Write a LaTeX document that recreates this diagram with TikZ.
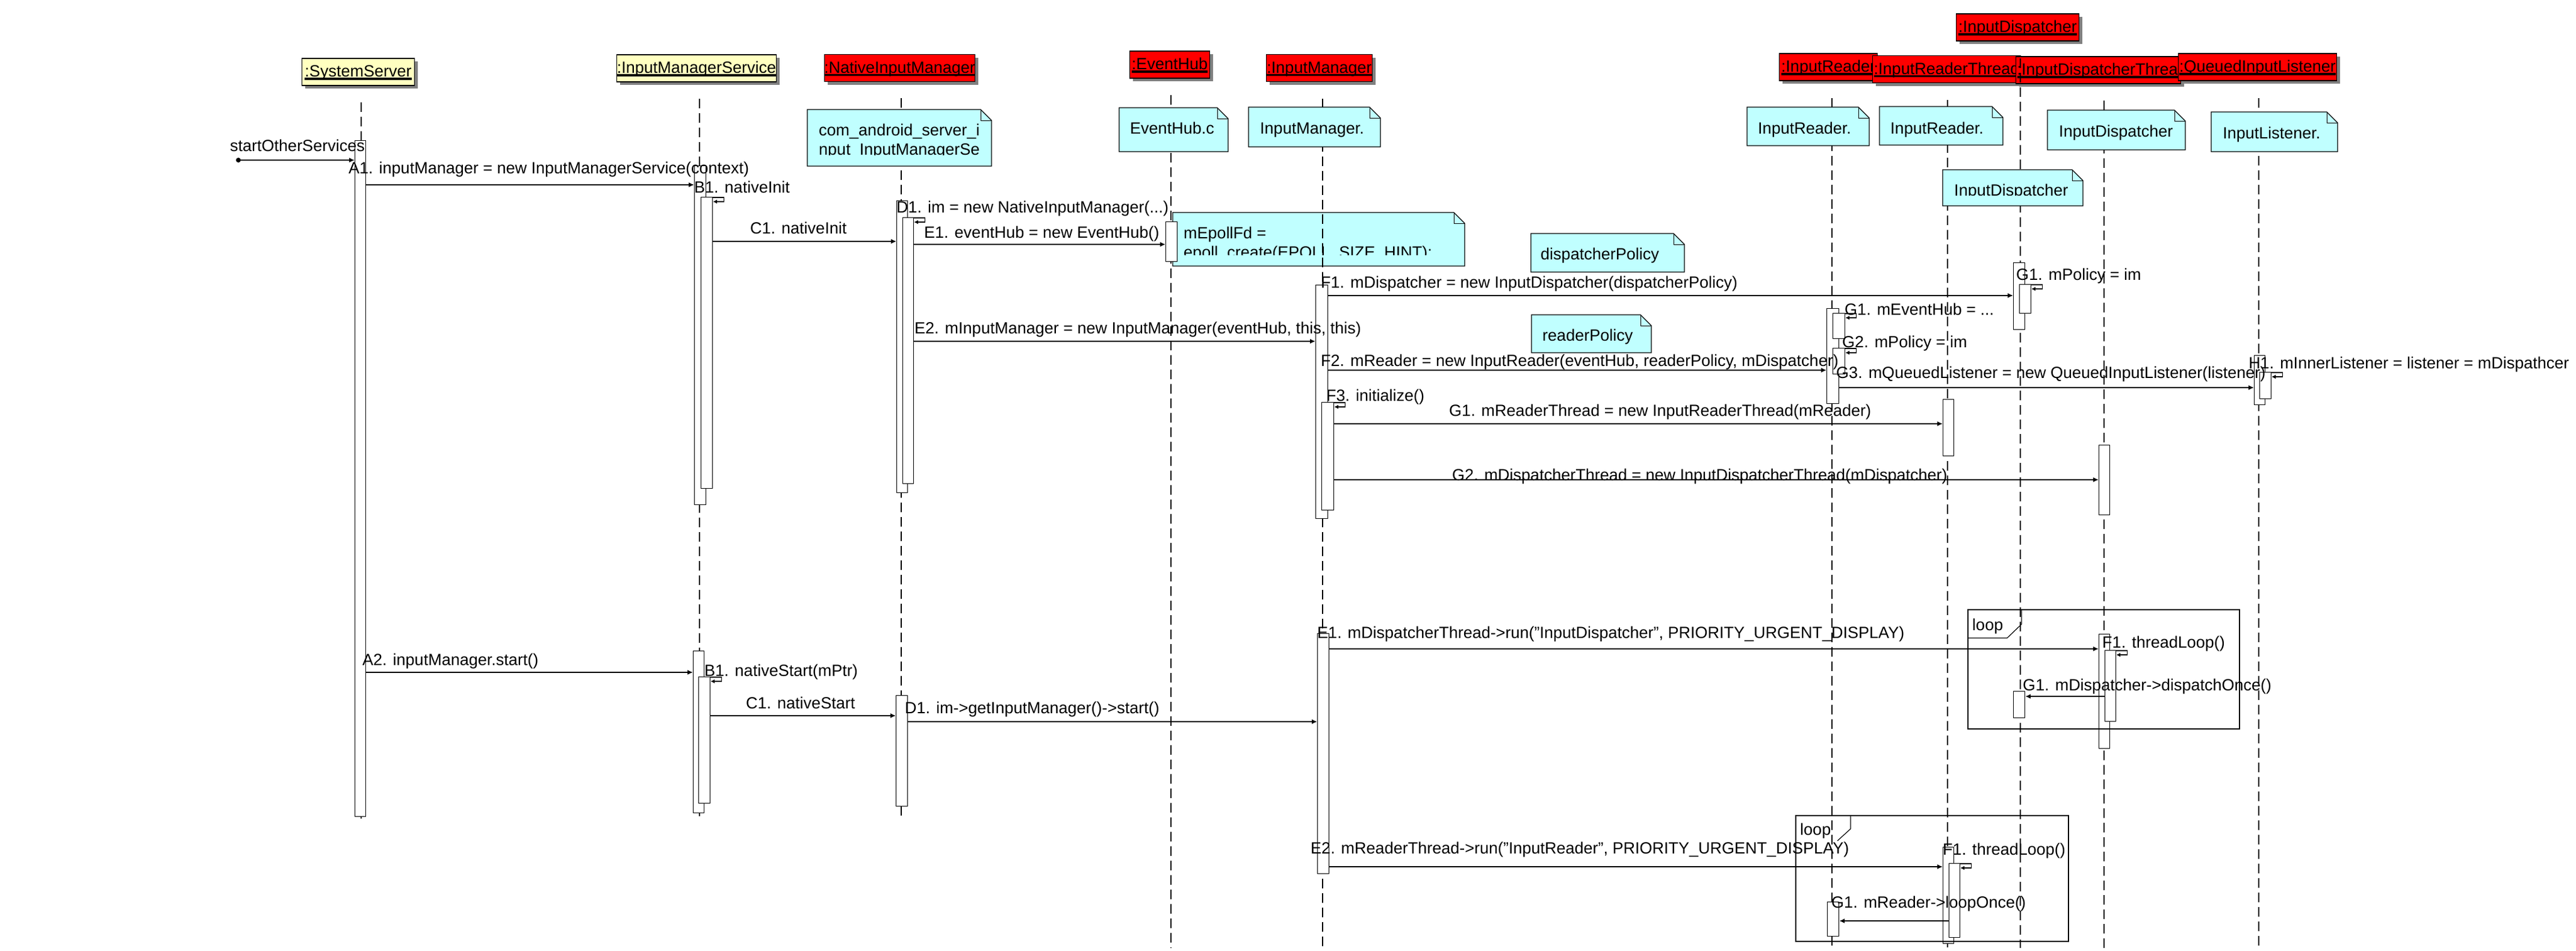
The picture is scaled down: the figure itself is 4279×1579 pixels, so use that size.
\documentclass[tikz,border=0pt]{standalone}
\usepackage{fontspec}
\setmainfont{Liberation Sans}
\usetikzlibrary{arrows.meta,shadows}
\definecolor{hdryellow}{HTML}{FFFFC0}
\definecolor{hdrred}{HTML}{FF0000}
\definecolor{notecyan}{HTML}{C0FFFF}
\definecolor{shgray}{HTML}{808080}
\newcommand\hdrul[1]{\setbox0=\hbox{#1}\rlap{\rule[-5pt]{\wd0}{3.5pt}}\box0}
\newcommand\hdrtext[3]{\makebox[#1pt][#2]{\hdrul{#3}}}
\newcommand\notebox[4]{%
  \filldraw[fill=notecyan, line width=1.2pt] (#1,#2) -- ({#3-18},#2) -- (#3,{#2+18}) -- (#3,#4) -- (#1,#4) -- cycle;
  \draw[line width=1pt] ({#3-18},#2) -- ({#3-18},{#2+18}) -- (#3,{#2+18});}
\newcommand\actbar[5]{\node[actb, minimum width={#3-#2}, minimum height={#5-#4}] (#1) at (#2,#4) {};}
\tikzset{
  every node/.style={font=\fontsize{27}{32}\selectfont, inner sep=0pt},
  hdr/.style={draw, line width=1.2pt, inner xsep=2pt, inner ysep=0pt, minimum height=45pt,
    text height=21pt, text depth=5pt,
    drop shadow={shadow xshift=5pt, shadow yshift=-5pt, opacity=1, fill=shgray}},
  life/.style={line width=1.2pt, dash pattern=on 16pt off 8pt},
  actb/.style={draw, fill=white, line width=1.2pt, anchor=north west, inner sep=0pt},
  msg/.style={line width=1.5pt, -{Latex[length=9pt,width=8pt]}},
  hook/.style={line width=1.2pt, -{Latex[length=7pt,width=7pt]}},
  lbl/.style={anchor=base west},
  frame/.style={line width=1.2pt}
}
\begin{document}
\begin{tikzpicture}[x=1pt,y=-1pt]
\useasboundingbox (0,0) rectangle (4279,1579);

% ---------- headers ----------
\node[hdr, fill=hdryellow] (ss) at (595,119.5) {\hdrtext{183}{c}{:SystemServer}};
\node[hdr, fill=hdryellow] (ims) at (1157,113.5) {\hdrtext{261}{c}{:InputManagerService}};
\node[hdr, fill=hdrred] (nim) at (1494.5,113) {\hdrtext{246}{c}{:NativeInputManager}};
\node[hdr, fill=hdrred] (eh) at (1943,107.5) {\hdrtext{129}{c}{:EventHub}};
\node[hdr, fill=hdrred] (im) at (2191.5,113) {\hdrtext{172}{c}{:InputManager}};
\node[hdr, fill=hdrred] (ir) at (3037,111.5) {\hdrtext{159}{c}{:InputReader}};
\node[hdr, fill=hdrred] (irt) at (3233.5,115) {\hdrtext{242}{c}{:InputReaderThread}};
\node[hdr, fill=hdrred] (idt) at (3485.5,116.5) {\hdrtext{270}{l}{:InputDispatcherThread}};
\node[hdr, fill=hdrred] (qil) at (3750,111.5) {\hdrtext{259}{c}{:QueuedInputListener}};
\node[hdr, fill=hdrred] (id) at (3351.5,45.5) {\hdrtext{200}{c}{:InputDispatcher}};

% ---------- note under the InputManager lifeline ----------
\notebox{1948}{353}{2433}{442}
\begin{scope}
  \clip (1948,353) rectangle (2433,423);
  \node[lbl] (nEpoll1) at (1966,396) {mEpollFd =};
  \node[lbl] (nEpoll2) at (1966,428) {epoll\_create(EPOLL\_SIZE\_HINT);};
\end{scope}

% ---------- lifelines ----------
\draw[life] (600,170) -- (600,1360);
\draw[life] (1162,164) -- (1162,1360);
\draw[life] (1497,163) -- (1497,1360);
\draw[life] (1945,158) -- (1945,1575);
\draw[life] (2197,164) -- (2197,1575);
\draw[life] (3043,163) -- (3043,1575);
\draw[life] (3235,166) -- (3235,1575);
\draw[life] (3356,97) -- (3356,1575);
\draw[life] (3495,167) -- (3495,1575);
\draw[life] (3752,163) -- (3752,1575);

% ---------- notes ----------
\notebox{1341}{182}{1647}{276}
\begin{scope}
  \clip (1341,182) rectangle (1647,257);
  \node[lbl] (nCom1) at (1360,225) {com\_android\_server\_i};
  \node[lbl] (nCom2) at (1360,257) {nput\_InputManagerSe};
\end{scope}
\notebox{1859}{179}{2040}{252}
\node[lbl] (nEH) at (1877,222) {EventHub.c};
\notebox{2074}{178}{2293}{244}
\node[lbl] (nIM) at (2093,222) {InputManager.};
\notebox{2902}{178}{3105}{242}
\node[lbl] (nIR1) at (2920,222) {InputReader.};
\notebox{3122}{177}{3327}{241}
\node[lbl] (nIR2) at (3140,222) {InputReader.};
\notebox{3401}{183}{3630}{249}
\node[lbl] (nID1) at (3420,227) {InputDispatcher};
\notebox{3673}{186}{3883}{252}
\node[lbl] (nIL) at (3692,230) {InputListener.};
\notebox{3227}{282}{3460}{342}
\begin{scope}
  \clip (3227,282) rectangle (3460,324);
  \node[lbl] (nID2) at (3246,325) {InputDispatcher};
\end{scope}
\notebox{2543}{388}{2798}{452}
\node[lbl] (nDP) at (2559,431) {dispatcherPolicy};
\notebox{2544}{523}{2743}{586}
\node[lbl] (nRP) at (2562,566) {readerPolicy};

% ---------- activation bars ----------
\actbar{ssA}{589}{607}{233}{1356}
\actbar{imsA}{1153}{1172}{275}{838}
\actbar{imsB}{1164}{1183}{327}{811}
\actbar{nimA}{1489}{1507}{333}{818}
\actbar{nimB}{1499}{1517}{361}{803}
\actbar{ehA}{1936}{1955}{368}{434}
\actbar{imA}{2185}{2205}{473}{861}
\actbar{imB}{2195}{2215}{668}{847}
\actbar{idA}{3344}{3363}{436}{547}
\actbar{idB}{3354}{3373}{472}{520}
\actbar{irA}{3034}{3054}{512}{670}
\actbar{irB}{3044}{3064}{520}{562}
\actbar{irC}{3044}{3064}{578}{621}
\actbar{qilA}{3744}{3762}{590}{672}
\actbar{qilB}{3753}{3772}{618}{662}
\actbar{irtA}{3227}{3245}{663}{757}
\actbar{idtA}{3486}{3504}{739}{855}
\actbar{imsC}{1151}{1169}{1081}{1350}
\actbar{imsD}{1160}{1179}{1124}{1334}
\actbar{nimC}{1488}{1507}{1155}{1339}
\actbar{imC}{2188}{2207}{1052}{1451}
\actbar{idtB}{3486}{3504}{1053}{1243}
\actbar{idtC}{3496}{3514}{1080}{1198}
\actbar{idC}{3344}{3363}{1148}{1192}
\actbar{irtB}{3227}{3245}{1407}{1567}
\actbar{irtC}{3237}{3255}{1434}{1557}
\actbar{irD}{3035}{3054}{1498}{1555}

% ---------- loop frames ----------
\draw[frame] (3269,1013) rectangle (3720,1211);
\draw[frame] (3269,1060) -- (3334,1060) -- (3358,1037) -- (3358,1013);
\node[lbl] (loopA) at (3276,1047) {loop};
\draw[frame] (2983,1355) rectangle (3436,1564);
\draw[frame] (3074,1355) -- (3074,1377) -- (3052,1397);
\node[lbl] (loopB) at (2990,1387) {loop};

% ---------- messages ----------
\node[circle, fill=black, minimum size=8pt] (fdot) at (396,266) {};
\draw[msg] (fdot.center) -- (ssA.west |- fdot.center);
\draw[msg] (ssA.east |- 0,307) -- (imsA.west |- 0,307);
\draw[hook] ([yshift=-1pt]imsB.north east) -- ++(18,0) -- ++(0,7) -- ++(-18,0);
\draw[msg] (imsB.east |- 0,401) -- (nimA.west |- 0,401);
\draw[hook] ([yshift=-1pt]nimB.north east) -- ++(18,0) -- ++(0,7) -- ++(-18,0);
\draw[msg] (nimB.east |- 0,406) -- (ehA.west |- 0,406);
\draw[msg] (nimB.east |- 0,567) -- (imA.west |- 0,567);
\draw[msg] (imA.east |- 0,491) -- (idA.west |- 0,491);
\draw[hook] ([yshift=-1pt]idB.north east) -- ++(18,0) -- ++(0,7) -- ++(-18,0);
\draw[msg] (imA.east |- 0,615) -- (irA.west |- 0,615);
\draw[hook] ([yshift=-1pt]irB.north east) -- ++(18,0) -- ++(0,7) -- ++(-18,0);
\draw[hook] ([yshift=-1pt]irC.north east) -- ++(18,0) -- ++(0,7) -- ++(-18,0);
\draw[msg] (irA.east |- 0,644) -- (qilA.west |- 0,644);
\draw[hook] ([yshift=-1pt]qilB.north east) -- ++(18,0) -- ++(0,7) -- ++(-18,0);
\draw[hook] ([yshift=-1pt]imB.north east) -- ++(18,0) -- ++(0,7) -- ++(-18,0);
\draw[msg] (imB.east |- 0,704) -- (irtA.west |- 0,704);
\draw[msg] (imB.east |- 0,797) -- (idtA.west |- 0,797);
\draw[msg] (ssA.east |- 0,1117) -- (imsC.west |- 0,1117);
\draw[hook] ([yshift=-1pt]imsD.north east) -- ++(18,0) -- ++(0,7) -- ++(-18,0);
\draw[msg] (imsD.east |- 0,1189) -- (nimC.west |- 0,1189);
\draw[msg] (nimC.east |- 0,1199) -- (imC.west |- 0,1199);
\draw[msg] (imC.east |- 0,1078) -- (idtB.west |- 0,1078);
\draw[hook] ([yshift=-1pt]idtC.north east) -- ++(18,0) -- ++(0,7) -- ++(-18,0);
\draw[msg] (idtC.west |- 0,1157) -- (idC.east |- 0,1157);
\draw[msg] (imC.east |- 0,1440) -- (irtB.west |- 0,1440);
\draw[hook] ([yshift=-1pt]irtC.north east) -- ++(18,0) -- ++(0,7) -- ++(-18,0);
\draw[msg] (irtC.west |- 0,1530) -- (irD.east |- 0,1530);

% ---------- message labels ----------
\node[lbl] (lFound) at (382,251) {startOtherServices};
\node[lbl] (lA1) at (579,288) {A1. inputManager = new InputManagerService(context)};
\node[lbl] (lB1) at (1153,320) {B1. nativeInit};
\node[lbl] (lC1) at (1246,388) {C1. nativeInit};
\node[lbl] (lD1) at (1489,353) {D1. im = new NativeInputManager(...)};
\node[lbl] (lE1) at (1535,395) {E1. eventHub = new EventHub()};
\node[lbl] (lE2) at (1519,554) {E2. mInputManager = new InputManager(eventHub, this, this)};
\node[lbl] (lF1) at (2194,478) {F1. mDispatcher = new InputDispatcher(dispatcherPolicy)};
\node[lbl] (lG1a) at (3349,465) {G1. mPolicy = im};
\node[lbl] (lF2) at (2194,608) {F2. mReader = new InputReader(eventHub, readerPolicy, mDispatcher)};
\node[lbl] (lG1b) at (3064,523) {G1. mEventHub = ...};
\node[lbl] (lG2b) at (3060,577) {G2. mPolicy = im};
\node[lbl] (lG3) at (3050,628) {G3. mQueuedListener = new QueuedInputListener(listener)};
\node[lbl] (lH1) at (3735,612) {H1. mInnerListener = listener = mDispathcer};
\node[lbl] (lF3) at (2203,666) {F3. initialize()};
\node[lbl] (lG1c) at (2407,691) {G1. mReaderThread = new InputReaderThread(mReader)};
\node[lbl] (lG2c) at (2412,798) {G2. mDispatcherThread = new InputDispatcherThread(mDispatcher)};
\node[lbl] (lA2) at (602,1105) {A2. inputManager.start()};
\node[lbl] (lB1s) at (1170,1123) {B1. nativeStart(mPtr)};
\node[lbl] (lC1s) at (1239,1177) {C1. nativeStart};
\node[lbl] (lD1s) at (1503,1185) {D1. im->getInputManager()->start()};
\node[lbl] (lE1s) at (2188,1060) {E1. mDispatcherThread->run("InputDispatcher", PRIORITY\_URGENT\_DISPLAY)};
\node[lbl] (lF1s) at (3492,1076) {F1. threadLoop()};
\node[lbl] (lG1s) at (3360,1147) {G1. mDispatcher->dispatchOnce()};
\node[lbl] (lE2s) at (2177,1418) {E2. mReaderThread->run("InputReader", PRIORITY\_URGENT\_DISPLAY)};
\node[lbl] (lF1r) at (3227,1420) {F1. threadLoop()};
\node[lbl] (lG1r) at (3042,1508) {G1. mReader->loopOnce()};
\end{tikzpicture}
\end{document}
